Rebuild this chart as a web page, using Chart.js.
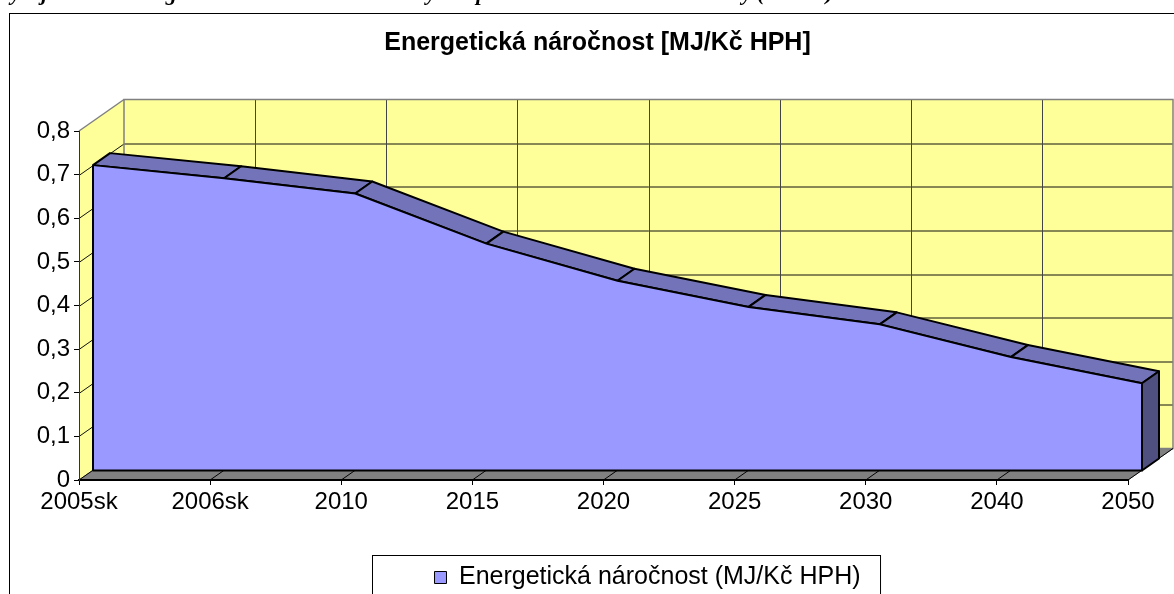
<!DOCTYPE html>
<html>
<head>
<meta charset="utf-8">
<script src="https://cdn.jsdelivr.net/npm/chart.js@4.4.1/dist/chart.umd.min.js"></script>
<style>
  html, body { margin: 0; padding: 0; overflow: hidden; background: #fff; }
  #wrap { position: relative; width: 1174px; height: 594px; overflow: hidden; }
  #myChart { position: absolute; left: 0; top: 0; }
  #caption {
    position: absolute; left: -4px; top: -20px; line-height: 22px;
    font: italic bold 22px "Liberation Serif", serif; white-space: nowrap; color: #000;
  }
</style>
</head>
<body>
<div id="wrap">
  <canvas id="myChart" width="1174" height="620"></canvas>
  <div id="caption">Vývoj celkové energetické náročnosti ekonomiky ČR při realizaci navržené varianty (MJ/Kč)</div>
</div>
<script>
/* globals Chart:false */
const years = ['2005sk', '2006sk', '2010', '2015', '2020', '2025', '2030', '2040', '2050'];
const intensity = [0.70, 0.67, 0.635, 0.52, 0.435, 0.375, 0.335, 0.26, 0.20];
const yTickLabels = ['0', '0,1', '0,2', '0,3', '0,4', '0,5', '0,6', '0,7', '0,8'];
const seriesLabel = 'Energetická náročnost (MJ/Kč HPH)';
const chartTitle = 'Energetická náročnost [MJ/Kč HPH]';

(() => {
  'use strict';

  // fake 3D: offset of the back wall, and of the slab's front / back planes
  const DEPTH = { x: 45, y: -31.5 };
  const SLAB_FRONT = { x: 14, y: -9.5 };
  const SLAB_BACK = { x: 31, y: -21.5 };

  const FONT = '"Liberation Sans", Arial, sans-serif';
  const LEGEND_SIZE = 25;

  function line(ctx, x1, y1, x2, y2) {
    ctx.beginPath();
    ctx.moveTo(x1, y1);
    ctx.lineTo(x2, y2);
    ctx.stroke();
  }

  function poly(ctx, pts, fill) {
    ctx.beginPath();
    ctx.moveTo(pts[0][0], pts[0][1]);
    for (let i = 1; i < pts.length; i++) ctx.lineTo(pts[i][0], pts[i][1]);
    ctx.closePath();
    if (fill) {
      ctx.fillStyle = fill;
      ctx.fill();
    }
    ctx.stroke();
  }

  // walls, floor and frame behind everything
  const walls = {
    id: 'walls',
    afterLayout(chart) {
      // title and legend sit a bit right of the canvas centre
      chart.titleBlock.left += 29;
      chart.titleBlock.right += 29;
      chart.legend.left += 79;
      chart.legend.right += 79;
    },
    beforeDraw(chart) {
      const { ctx, chartArea: a, scales: { x, y } } = chart;
      const dx = DEPTH.x, dy = DEPTH.y;
      ctx.save();
      ctx.fillStyle = '#fff';
      ctx.fillRect(0, 0, chart.width, chart.height);

      // outer frame
      ctx.strokeStyle = '#000';
      ctx.lineWidth = 1;
      ctx.strokeRect(9.5, 13.5, chart.width + 40, chart.height + 40);

      // back wall + left wall
      ctx.fillStyle = '#FFFF99';
      ctx.fillRect(a.left + dx, a.top + dy, a.right - a.left, a.bottom - a.top);
      ctx.strokeStyle = 'rgba(0,0,0,0)';
      poly(ctx, [[a.left, a.bottom], [a.left, a.top], [a.left + dx, a.top + dy], [a.left + dx, a.bottom + dy]], '#FFFF99');

      // grid on the walls
      ctx.lineWidth = 1;
      y.ticks.forEach((t) => {
        if (t.value <= 0 || t.value >= 0.8) return;
        const py = Math.round(y.getPixelForValue(t.value)) + 0.5;
        ctx.strokeStyle = '#111';
        line(ctx, a.left + dx, py + dy, a.right + dx, py + dy);
        line(ctx, a.left, py, a.left + dx, py + dy);
      });
      ctx.strokeStyle = '#444';
      years.forEach((yr, i) => {
        if (i === 0 || i === years.length - 1) return;
        const px = Math.round(x.getPixelForValue(i) + dx) + 0.5;
        line(ctx, px, a.top + dy, px, a.bottom + dy);
      });

      // wall edges
      ctx.strokeStyle = '#808080';
      ctx.lineWidth = 1.5;
      ctx.strokeRect(a.left + dx, a.top + dy, a.right - a.left, a.bottom - a.top);
      line(ctx, a.left, a.top, a.left + dx, a.top + dy);

      // floor
      ctx.lineWidth = 1;
      poly(ctx, [[a.left, a.bottom], [a.right, a.bottom], [a.right + dx, a.bottom + dy], [a.left + dx, a.bottom + dy]], '#808080');
      ctx.strokeStyle = '#000';
      years.forEach((yr, i) => {
        const px = x.getPixelForValue(i);
        line(ctx, px, a.bottom, px + dx, a.bottom + dy);
      });
      ctx.restore();
    },
    beforeDatasetsDraw(chart) {
      const { ctx } = chart;
      const pts = chart.getDatasetMeta(0).data;
      const base = chart.scales.y.getPixelForValue(0);
      const bx = SLAB_BACK.x - SLAB_FRONT.x, by = SLAB_BACK.y - SLAB_FRONT.y;
      ctx.save();
      ctx.translate(SLAB_FRONT.x, SLAB_FRONT.y);
      ctx.strokeStyle = '#000';
      ctx.lineWidth = 2;
      ctx.lineJoin = 'round';
      // top surface of the slab
      for (let i = 0; i < pts.length - 1; i++) {
        const p = pts[i], q = pts[i + 1];
        poly(ctx, [[p.x, p.y], [q.x, q.y], [q.x + bx, q.y + by], [p.x + bx, p.y + by]], '#7373BA');
      }
      // right end
      const last = pts[pts.length - 1];
      poly(ctx, [[last.x, last.y], [last.x + bx, last.y + by], [last.x + bx, base + by], [last.x, base]], '#4F4F80');
    },
    afterDatasetsDraw(chart) {
      const { ctx } = chart;
      const pts = chart.getDatasetMeta(0).data;
      const base = chart.scales.y.getPixelForValue(0);
      const first = pts[0], last = pts[pts.length - 1];
      ctx.beginPath();
      ctx.moveTo(first.x, first.y);
      ctx.lineTo(first.x, base);
      ctx.lineTo(last.x, base);
      ctx.lineTo(last.x, last.y);
      ctx.stroke();
      ctx.restore();
    },
    afterDraw(chart) {
      // box round the legend
      const { ctx, legend } = chart;
      const item = legend.options.labels;
      ctx.save();
      ctx.font = LEGEND_SIZE + 'px ' + FONT;
      const tw = ctx.measureText(seriesLabel).width;
      const itemW = item.boxWidth + LEGEND_SIZE / 2 + tw;
      const x0 = (legend.left + legend.right - itemW) / 2;
      const cy = legend.top + item.padding + LEGEND_SIZE / 2;
      ctx.strokeStyle = '#000';
      ctx.lineWidth = 1;
      ctx.strokeRect(Math.round(x0 - 62) + 0.5, Math.round(cy - 23) + 0.5, itemW + 82, 80);
      ctx.restore();
    }
  };

  const ctx1 = document.getElementById('myChart');
  const myChart = new Chart(ctx1, {
    type: 'line',
    data: {
      labels: years,
      datasets: [
        {
          label: seriesLabel,
          data: intensity,
          fill: 'origin',
          backgroundColor: '#9999FF',
          borderColor: '#000',
          borderWidth: 2,
          pointRadius: 0,
          tension: 0,
          clip: false
        }
      ]
    },
    options: {
      responsive: false,
      animation: false,
      events: [],
      layout: {
        padding: { left: 9, right: 46, top: 0, bottom: 20 }
      },
      plugins: {
        title: {
          display: true,
          text: chartTitle,
          color: '#000',
          font: { family: FONT, size: 25, weight: 'bold' },
          padding: { top: 28.5, bottom: 72.5 }
        },
        legend: {
          display: true,
          position: 'bottom',
          labels: {
            color: '#000',
            font: { family: FONT, size: LEGEND_SIZE },
            boxWidth: 12,
            boxHeight: 12,
            padding: 10,
            generateLabels(chart) {
              const items = Chart.defaults.plugins.legend.labels.generateLabels(chart);
              items.forEach((it) => { it.lineWidth = 1; });
              return items;
            }
          }
        },
        tooltip: { enabled: false }
      },
      scales: {
        x: {
          offset: false,
          afterFit(scale) { scale.height = 75; },
          grid: { drawOnChartArea: false, drawTicks: true, tickLength: 5, color: '#000', offset: false },
          border: { display: true, color: '#000', width: 2 },
          ticks: {
            color: '#000',
            font: { family: FONT, size: 24 },
            padding: 3,
            maxRotation: 0,
            autoSkip: false
          }
        },
        y: {
          min: 0,
          max: 0.8,
          afterFit(scale) { scale.width = 70; },
          grid: { drawOnChartArea: false, drawTicks: true, tickLength: 5, color: '#000' },
          border: { display: true, color: '#333', width: 1 },
          ticks: {
            stepSize: 0.1,
            color: '#000',
            font: { family: FONT, size: 24 },
            padding: 4,
            callback: (v, i) => yTickLabels[i]
          }
        }
      }
    },
    plugins: [walls]
  });
})();
</script>
</body>
</html>
